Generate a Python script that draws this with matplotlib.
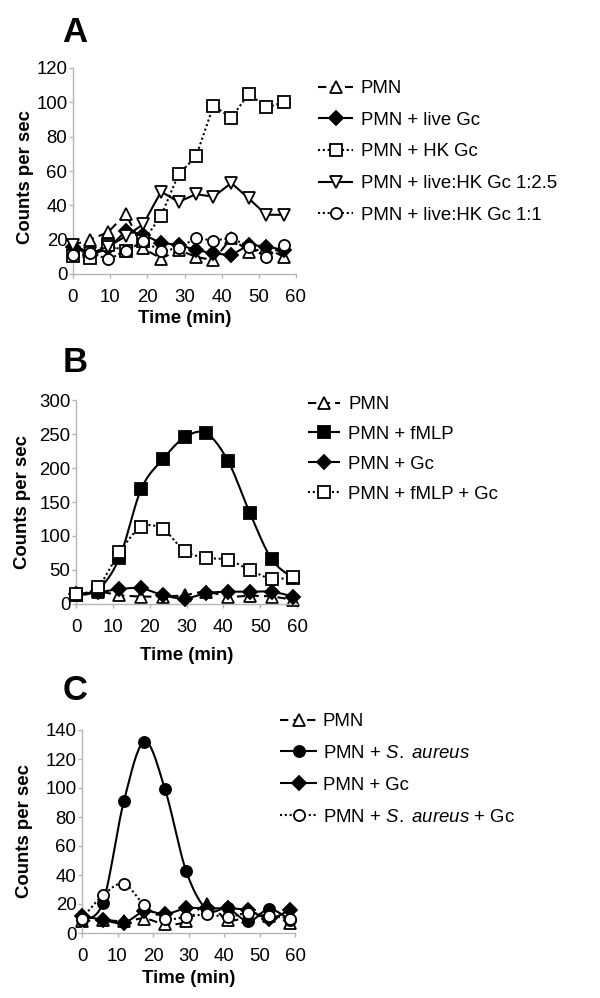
import numpy as np
import matplotlib
matplotlib.use("Agg")
import matplotlib.pyplot as plt
from matplotlib.lines import Line2D

plt.rcParams['font.family'] = ['Liberation Sans', 'DejaVu Sans']
plt.rcParams['mathtext.fontset'] = 'custom'
plt.rcParams['mathtext.it'] = 'Liberation Sans:italic'
plt.rcParams['mathtext.rm'] = 'Liberation Sans'

# ---------------- data ----------------
# Panel A
time_a = [0, 4.7, 9.5, 14.2, 18.9, 23.7, 28.4, 33.1, 37.8, 42.6, 47.3, 52.0, 56.8]
a_pmn = [17, 20, 24.5, 35, 15, 9, 14, 10, 8, 21, 13, 15, 10]
a_live = [16, 11, 15, 25, 23, 18, 17, 14, 12, 11, 17, 16, 14]
a_hk = [10.5, 9.5, 16.7, 13.4, 19, 34, 58, 68.5, 98, 91, 105, 97, 100]
a_mix25 = [17, 12, 16, 22, 29, 48, 42, 46.5, 45, 53, 44, 34.5, 34.5]
a_mix11 = [11, 12.5, 8.5, 13.5, 19, 13.5, 15, 21, 19.5, 21, 16, 10, 17]
labels_a = ["PMN", "PMN + live Gc", "PMN + HK Gc", "PMN + live:HK Gc 1:2.5", "PMN + live:HK Gc 1:1"]

# Panel B
time_b = [0, 5.9, 11.8, 17.7, 23.6, 29.5, 35.4, 41.3, 47.2, 53.1, 59.0]
b_pmn = [13, 18, 13, 11, 11, 13, 18, 11, 12, 11, 6]
b_fmlp = [13, 21, 68, 169, 213, 245, 251, 210, 134, 66, 38]
b_gc = [15, 17, 22, 23, 13, 8, 16, 18, 18, 18, 11]
b_fmlp_gc = [14, 25, 76, 113, 110, 78, 68, 65, 50, 37, 40]
labels_b = ["PMN", "PMN + fMLP", "PMN + Gc", "PMN + fMLP + Gc"]

# Panel C
time_c = [0, 5.9, 11.8, 17.6, 23.4, 29.3, 35.2, 41.0, 46.9, 52.7, 58.6]
c_pmn = [8, 9, 8, 10, 6, 8, 20, 9, 11, 12, 7]
c_sa = [9, 21, 91, 132, 99, 43, 16, 17, 8, 16.5, 9]
c_gc = [12, 9, 7, 15, 13, 17, 17, 17, 15.6, 10, 16]
c_sa_gc = [10, 26, 34, 19, 10, 11, 13, 11, 14, 12, 10]
labels_c = ["PMN", r"PMN + $\mathit{S.\ aureus}$", "PMN + Gc", r"PMN + $\mathit{S.\ aureus}$ + Gc"]

# ---------------- styles ----------------
DASH = (0, (4, 2.5))
DOT = (0, (1, 1.3))
LW = 1.5
FS = 13.4
MEW = 1.3


def smooth(x, y, n=20):
    """Excel-like smoothed line (Catmull-Rom Bezier) used only for drawing."""
    x = np.asarray(x, float)
    y = np.asarray(y, float)
    P = np.column_stack([x, y])
    out = [P[0]]
    N = len(P)
    for i in range(N - 1):
        p0 = P[i - 1] if i > 0 else P[i]
        p1 = P[i]
        p2 = P[i + 1]
        p3 = P[i + 2] if i + 2 < N else P[i + 1]
        c1 = p1 + (p2 - p0) / 6.0
        c2 = p2 - (p3 - p1) / 6.0
        t = np.linspace(0, 1, n + 1)[1:, None]
        seg = ((1 - t) ** 3) * p1 + 3 * ((1 - t) ** 2) * t * c1 + 3 * (1 - t) * t ** 2 * c2 + t ** 3 * p2
        out.extend(seg)
    out = np.array(out)
    return out[:, 0], out[:, 1]


def series(ax, x, y, ls, marker, mfc, ms, smooth_line, z):
    if smooth_line:
        sx, sy = smooth(x, y)
    else:
        sx, sy = x, y
    ax.plot(sx, sy, color='black', lw=LW, linestyle=ls, zorder=z, clip_on=False,
            solid_capstyle='butt', dash_capstyle='butt')
    ax.plot(x, y, linestyle='none', marker=marker, ms=ms, mfc=mfc, mec='black',
            mew=MEW, zorder=z + 0.5, clip_on=False)
    return Line2D([], [], color='black', lw=LW, linestyle=ls, marker=marker, ms=ms,
                  mfc=mfc, mec='black', mew=MEW, solid_capstyle='butt', dash_capstyle='butt')


def style_axes(ax, ymax, ystep, ylabel_x, ylabel_y, xlabel_y):
    ax.set_xlim(0, 60)
    ax.set_ylim(0, ymax)
    ax.set_xticks(np.arange(0, 61, 10))
    ax.set_yticks(np.arange(0, ymax + 1, ystep))
    for s in ['top', 'right']:
        ax.spines[s].set_visible(False)
    for s in ['left', 'bottom']:
        ax.spines[s].set_color('#b5b5b5')
        ax.spines[s].set_linewidth(1.0)
    ax.tick_params(axis='x', length=3, width=1, color='#b5b5b5', pad=8, labelsize=FS)
    ax.tick_params(axis='y', length=3, width=1, color='#b5b5b5', pad=1, labelsize=FS)
    ax.set_ylabel("Counts per sec", fontsize=13.4, fontweight='bold')
    ax.yaxis.set_label_coords(ylabel_x, ylabel_y)
    ax.yaxis.label.set_verticalalignment('center')
    ax.set_xlabel("Time (min)", fontsize=13.4, fontweight='bold')
    ax.xaxis.label.set_verticalalignment('center')
    ax.xaxis.set_label_coords(0.5, xlabel_y)


W, H = 600, 998
fig = plt.figure(figsize=(6, 9.98), dpi=100)


def axes_px(left, right, top, bottom):
    return fig.add_axes([left / W, 1 - bottom / H, (right - left) / W, (bottom - top) / H])


# ---------- Panel A ----------
axA = axes_px(73, 296, 68, 274)
style_axes(axA, 120, 20, -0.215, 0.47, -0.214)
hA = [
    series(axA, time_a, a_pmn, DASH, '^', 'white', 8.5, False, 2),
    series(axA, time_a, a_live, '-', 'D', 'black', 7, False, 3),
    series(axA, time_a, a_hk, DOT, 's', 'white', 8, False, 4),
    series(axA, time_a, a_mix25, '-', 'v', 'white', 8.5, False, 5),
    series(axA, time_a, a_mix11, DOT, 'o', 'white', 8, False, 6),
]
fig.legend(hA, labels_a, loc='upper left', bbox_to_anchor=(318 / W, 1 - 80 / H),
           frameon=False, fontsize=FS, handlelength=1.9, handletextpad=0.4,
           labelspacing=0.79, borderpad=0, borderaxespad=0)
fig.text(75 / W, 1 - 33 / H, "A", fontsize=25, fontweight='bold', ha='center', va='center')

# ---------- Panel B ----------
axB = axes_px(76, 297, 400, 604)
style_axes(axB, 300, 50, -0.244, 0.5, -0.25)
hB = [
    series(axB, time_b, b_pmn, DASH, '^', 'white', 8.5, True, 2),
    series(axB, time_b, b_fmlp, '-', 's', 'black', 8, True, 3),
    series(axB, time_b, b_gc, '-', 'D', 'black', 7, True, 4),
    series(axB, time_b, b_fmlp_gc, DOT, 's', 'white', 8, True, 5),
]
fig.legend(hB, labels_b, loc='upper left', bbox_to_anchor=(308 / W, 1 - 396 / H),
           frameon=False, fontsize=FS, handlelength=1.7, handletextpad=0.45,
           labelspacing=0.69, borderpad=0, borderaxespad=0)
fig.text(75 / W, 1 - 362 / H, "B", fontsize=25, fontweight='bold', ha='center', va='center')

# ---------- Panel C ----------
axC = axes_px(82, 295, 730, 933)
style_axes(axC, 140, 20, -0.268, 0.5, -0.222)
hC = [
    series(axC, time_c, c_pmn, DASH, '^', 'white', 8.5, True, 2),
    series(axC, time_c, c_sa, '-', 'o', 'black', 8, True, 3),
    series(axC, time_c, c_gc, '-', 'D', 'black', 7, True, 4),
    series(axC, time_c, c_sa_gc, DOT, 'o', 'white', 8, True, 5),
]
fig.legend(hC, labels_c, loc='upper left', bbox_to_anchor=(280 / W, 1 - 713 / H),
           frameon=False, fontsize=FS, handlelength=2.0, handletextpad=0.3,
           labelspacing=0.8, borderpad=0, borderaxespad=0)
fig.text(75 / W, 1 - 690 / H, "C", fontsize=25, fontweight='bold', ha='center', va='center')

fig.savefig("out.png", dpi=100)
